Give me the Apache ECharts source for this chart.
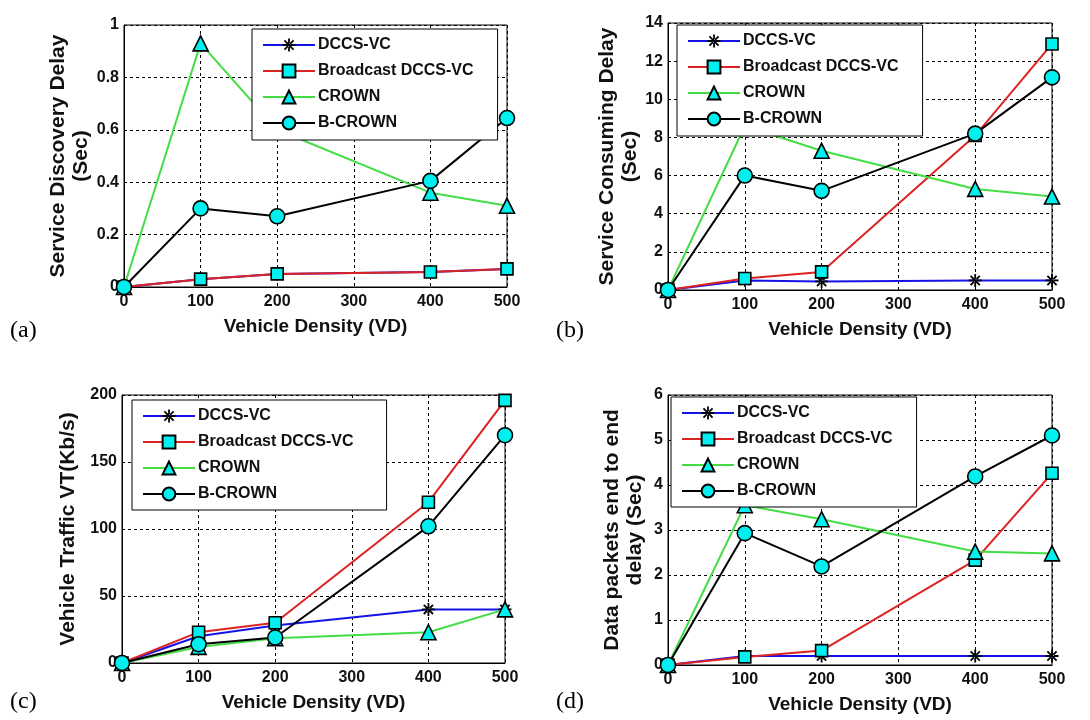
<!DOCTYPE html>
<html>
<head>
<meta charset="utf-8">
<script src="https://cdn.jsdelivr.net/npm/echarts@6/dist/echarts.min.js"></script>
<style>
html,body{margin:0;padding:0;background:#fff;}
#chart{width:1090px;height:720px;}
</style>
</head>
<body>
<div id="chart"></div>
<script>
// ---------- data ----------
var seriesNames = ['DCCS-VC', 'Broadcast DCCS-VC', 'CROWN', 'B-CROWN'];
var vd = [0, 100, 200, 400, 500];
var xTicks = [0, 100, 200, 300, 400, 500];

// (a) Service Discovery Delay (Sec)
var aDccs   = [0, 0.03, 0.05, 0.057, 0.069];
var aBcast  = [0, 0.03, 0.05, 0.057, 0.069];
var aCrown  = [0, 0.93, 0.60, 0.36, 0.31];
var aBcrown = [0, 0.30, 0.27, 0.405, 0.645];

// (b) Service Consuming Delay (Sec)
var bDccs   = [0, 0.5, 0.45, 0.5, 0.5];
var bBcast  = [0, 0.6, 0.95, 8.1, 12.9];
var bCrown  = [0, 8.6, 7.3, 5.3, 4.9];
var bBcrown = [0, 6.0, 5.2, 8.2, 11.15];

// (c) Vehicle Traffic VT (Kb/s)
var cDccs   = [0, 20, 28, 40, 40];
var cBcast  = [0, 23, 30, 120, 196];
var cCrown  = [0, 12, 18.5, 23, 40];
var cBcrown = [0, 14, 19, 102, 170];

// (d) Data packets end to end delay (Sec)
var dDccs   = [0, 0.2, 0.2, 0.2, 0.2];
var dBcast  = [0, 0.18, 0.32, 2.33, 4.26];
var dCrown  = [0, 3.55, 3.24, 2.52, 2.48];
var dBcrown = [0, 2.93, 2.19, 4.19, 5.1];

var yTicksA = [0, 0.2, 0.4, 0.6, 0.8, 1];
var yTicksB = [0, 2, 4, 6, 8, 10, 12, 14];
var yTicksC = [0, 50, 100, 150, 200];
var yTicksD = [0, 1, 2, 3, 4, 5, 6];

var yNames = ['Service Discovery Delay\n(Sec)', 'Service Consuming Delay\n(Sec)',
              'Vehicle Traffic VT(Kb/s)', 'Data packets end to end\ndelay (Sec)'];
var xName = 'Vehicle Density (VD)';
var panelLabels = ['(a)', '(b)', '(c)', '(d)'];

// ---------- styling / layout ----------
var FONT = '"Liberation Sans", Arial, sans-serif';
var cyan = '#00F0F0';
var colors = ['#1414E6', '#DD2222', '#44DD44', '#000000'];
var asterisk = 'path://M-1.4,-10L1.4,-10L1.4,10L-1.4,10Z' +
  'M-10,-1.4L10,-1.4L10,1.4L-10,1.4Z' +
  'M6.1,8.1L-8.1,-6.1L-6.1,-8.1L8.1,6.1Z' +
  'M8.1,-6.1L6.1,-8.1L-8.1,6.1L-6.1,8.1Z';
var symbols = [asterisk, 'rect', 'triangle', 'circle'];
var symSizes = [13, 12, 15, 15];

var grids = [
  {left: 124, top: 25, width: 383, height: 262},
  {left: 668, top: 23, width: 384, height: 267},
  {left: 122, top: 395, width: 383, height: 268},
  {left: 668, top: 395, width: 384, height: 270}
];
var yTickSets = [yTicksA, yTicksB, yTicksC, yTicksD];
var yGaps = [26, 15, 42, 21];
var legendPos = [
  {left: 252, top: 29, padding: [8, 24, 9, 10]},
  {left: 677, top: 25, padding: [8, 24, 9, 10]},
  {left: 132, top: 400, padding: [8, 33, 8, 10]},
  {left: 671, top: 397, padding: [8, 24, 8, 10]}
];
var labelPos = [[10, 319], [556, 319], [10, 690], [556, 690]];
var panelData = [
  [aDccs, aBcast, aCrown, aBcrown],
  [bDccs, bBcast, bCrown, bBcrown],
  [cDccs, cBcast, cCrown, cBcrown],
  [dDccs, dBcast, dCrown, dBcrown]
];

var option = {
  animation: false,
  backgroundColor: '#fff',
  grid: [], xAxis: [], yAxis: [], series: [], legend: [], graphic: []
};

for (var p = 0; p < 4; p++) {
  var g = grids[p];
  option.grid.push({left: g.left, top: g.top, width: g.width, height: g.height,
    show: true, borderColor: '#000', borderWidth: 1, backgroundColor: '#fff'});
  option.xAxis.push({
    type: 'value', gridIndex: p, min: xTicks[0], max: xTicks[xTicks.length - 1],
    interval: xTicks[1] - xTicks[0],
    name: xName, nameLocation: 'middle', nameGap: 30,
    nameTextStyle: {fontFamily: FONT, fontWeight: 'bold', fontSize: 19, color: '#111'},
    axisLine: {show: true, lineStyle: {color: '#000', width: 1}},
    axisTick: {show: false},
    axisLabel: {fontFamily: FONT, fontWeight: 'bold', fontSize: 16, color: '#111', margin: 7},
    splitLine: {show: true, lineStyle: {color: '#000', type: [3, 3], width: 1}}
  });
  var yt = yTickSets[p];
  option.yAxis.push({
    type: 'value', gridIndex: p, min: yt[0], max: yt[yt.length - 1],
    interval: yt[1] - yt[0],
    name: yNames[p], nameLocation: 'middle', nameGap: yGaps[p],
    nameTextStyle: {fontFamily: FONT, fontWeight: 'bold', fontSize: 21, color: '#111', lineHeight: 23},
    axisLine: {show: true, lineStyle: {color: '#000', width: 1}},
    axisTick: {show: false},
    axisLabel: {fontFamily: FONT, fontWeight: 'bold', fontSize: 16, color: '#111', margin: 5},
    splitLine: {show: true, lineStyle: {color: '#000', type: [3, 3], width: 1}}
  });
  for (var s = 0; s < 4; s++) {
    var vals = panelData[p][s];
    var pts = [];
    for (var i = 0; i < vd.length; i++) pts.push([vd[i], vals[i]]);
    var isAst = s === 0;
    option.series.push({
      type: 'line', name: seriesNames[s], xAxisIndex: p, yAxisIndex: p,
      data: pts, symbol: symbols[s], symbolSize: symSizes[s],
      showAllSymbol: true, z: 3 + s,
      lineStyle: {color: colors[s], width: 2},
      itemStyle: isAst ? {color: '#000', borderWidth: 0} :
                         {color: cyan, borderColor: '#000', borderWidth: 1.6}
    });
  }
  var lp = legendPos[p];
  option.legend.push({
    data: seriesNames, orient: 'vertical', left: lp.left, top: lp.top,
    padding: lp.padding, itemGap: 10, itemWidth: 52, itemHeight: 16,
    backgroundColor: '#fff', borderColor: '#000', borderWidth: 1,
    z: 20, selectedMode: false,
    textStyle: {fontFamily: FONT, fontWeight: 'bold', fontSize: 16, color: '#111', padding: [0, 0, 0, -2]}
  });
  option.graphic.push({
    type: 'text', left: labelPos[p][0], top: labelPos[p][1],
    style: {text: panelLabels[p], font: '24px "Liberation Serif", "Times New Roman", serif', fill: '#000'}
  });
}

var chart = echarts.init(document.getElementById('chart'), null, {renderer: 'canvas'});
chart.setOption(option);
</script>
</body>
</html>
